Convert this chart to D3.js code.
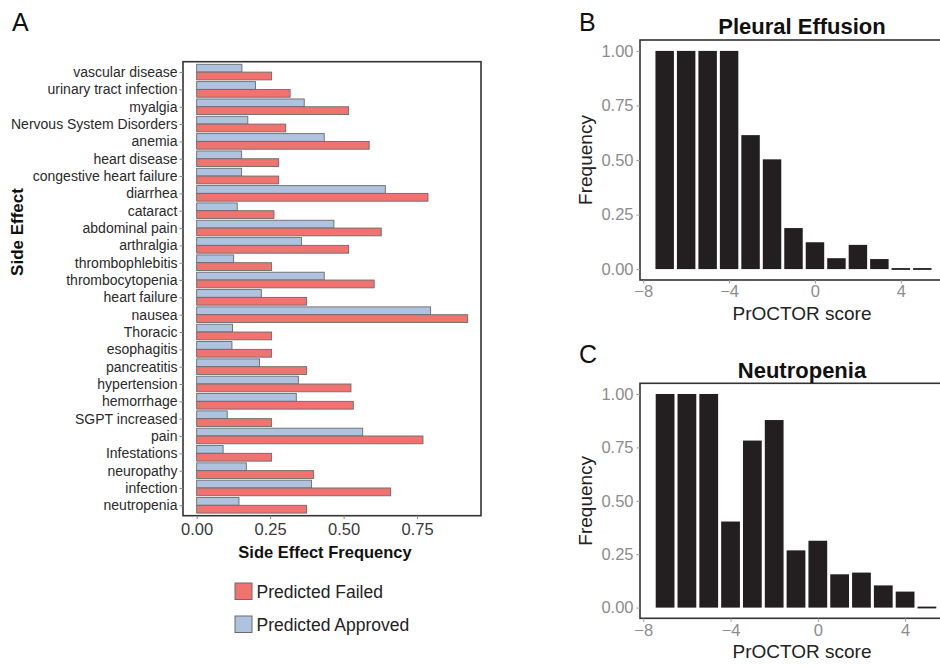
<!DOCTYPE html>
<html><head><meta charset="utf-8">
<script src="https://cdn.jsdelivr.net/npm/d3@7"></script>
<style>body{margin:0;background:#fff}svg{display:block;font-family:"Liberation Sans",Arial,Helvetica,sans-serif}</style>
</head><body><svg id="c" width="940" height="667"></svg>
<script>
const categories = ["vascular disease","urinary tract infection","myalgia","Nervous System Disorders","anemia","heart disease","congestive heart failure","diarrhea","cataract","abdominal pain","arthralgia","thrombophlebitis","thrombocytopenia","heart failure","nausea","Thoracic","esophagitis","pancreatitis","hypertension","hemorrhage","SGPT increased","pain","Infestations","neuropathy","infection","neutropenia"];
const approved = [0.154,0.200,0.366,0.174,0.434,0.153,0.153,0.642,0.138,0.467,0.357,0.126,0.434,0.220,0.796,0.122,0.120,0.214,0.346,0.339,0.104,0.565,0.090,0.169,0.391,0.144];
const failed   = [0.255,0.318,0.517,0.303,0.587,0.279,0.279,0.787,0.263,0.628,0.517,0.255,0.604,0.374,0.922,0.255,0.255,0.374,0.525,0.533,0.255,0.770,0.255,0.398,0.660,0.374];
const freqTicks = [0, 0.25, 0.5, 0.75];
const seriesNames = ["Predicted Failed","Predicted Approved"];

const scoreBins = [-7,-6,-5,-4,-3,-2,-1,0,1,2,3,4,5];
const pleuralFreq = [1,1,1,1,0.614,0.503,0.188,0.123,0.050,0.111,0.046,0,0];
const neutropeniaFreq = [1,1,1,0.403,0.782,0.878,0.268,0.313,0.156,0.164,0.104,0.075,0];
const scoreTicks = [-8,-4,0,4];
const histYTicks = [0,0.25,0.5,0.75,1];

const svg = d3.select("#c");
const RED = "#F07370", BLUE = "#AFC2E0", BSTROKE = "#6b6b6b";

// ---------- Panel A ----------
const A = {l:183, r:481, t:61.7, b:515.7};
const x = d3.scaleLinear().domain([-0.0465, 0.9675]).range([A.l, A.r]);
const y = d3.scalePoint().domain(categories).range([A.t, A.b]).padding(0.6);
const step = y.step(), bh = step*0.45;
const gA = svg.append("g");
gA.append("rect").attr("x",A.l).attr("y",A.t).attr("width",A.r-A.l).attr("height",A.b-A.t)
  .attr("fill","#fff").attr("stroke","#333").attr("stroke-width",1.6);
categories.forEach((c,i)=>{
  gA.append("rect").attr("x",x(0)).attr("y",y(c)-bh).attr("width",x(approved[i])-x(0)).attr("height",bh)
    .attr("fill",BLUE).attr("stroke",BSTROKE).attr("stroke-width",0.9);
  gA.append("rect").attr("x",x(0)).attr("y",y(c)).attr("width",x(failed[i])-x(0)).attr("height",bh)
    .attr("fill",RED).attr("stroke",BSTROKE).attr("stroke-width",0.9);
});
const yAx = gA.append("g").attr("transform",`translate(${A.l},0)`)
  .call(d3.axisLeft(y).tickSize(3.5).tickPadding(2));
yAx.select(".domain").remove();
yAx.selectAll("line").attr("stroke","#888");
yAx.selectAll("text").attr("font-size",14).attr("fill","#2a2a2a").attr("font-family","Liberation Sans, Arial, sans-serif");
const xAx = gA.append("g").attr("transform",`translate(0,${A.b})`)
  .call(d3.axisBottom(x).tickValues(freqTicks).tickFormat(d3.format(".2f")).tickSize(3.5).tickPadding(4));
xAx.select(".domain").remove();
xAx.selectAll("line").attr("stroke","#888");
xAx.selectAll("text").attr("font-size",16.5).attr("fill","#3a3a3a").attr("font-family","Liberation Sans, Arial, sans-serif");
svg.append("text").attr("x",325).attr("y",558).attr("text-anchor","middle").attr("font-weight","bold")
  .attr("font-size",16.5).attr("fill","#111").text("Side Effect Frequency");
svg.append("text").attr("transform","translate(23,232) rotate(-90)").attr("text-anchor","middle")
  .attr("font-weight","bold").attr("font-size",17).attr("fill","#111").text("Side Effect");
svg.append("text").attr("x",12).attr("y",31).attr("font-size",25).attr("fill","#111").text("A");
// legend
const legColors = [RED, BLUE];
seriesNames.forEach((n,i)=>{
  const ly = 583 + i*33;
  svg.append("rect").attr("x",235).attr("y",ly).attr("width",17).attr("height",16.5)
    .attr("fill",legColors[i]).attr("stroke",BSTROKE).attr("stroke-width",1);
  svg.append("text").attr("x",256.5).attr("y",ly+15).attr("font-size",17.5).attr("fill","#222").text(n);
});

// ---------- Histograms ----------
function hist(label, title, values, box, xr, titleY, labelY){
  const g = svg.append("g");
  const hx = d3.scaleLinear().domain([-8.15, 6.15]).range([box.l, xr]);
  const hy = d3.scaleLinear().domain([-0.05, 1.05]).range([box.b, box.t]);
  g.append("rect").attr("x",box.l).attr("y",box.t).attr("width",xr-box.l).attr("height",box.b-box.t)
    .attr("fill","#fff").attr("stroke","#333").attr("stroke-width",1.6);
  const bw = 0.86;
  scoreBins.forEach((s,i)=>{
    const h = hy(0)-hy(values[i]);
    g.append("rect").attr("x",hx(s-bw/2)).attr("width",hx(s+bw/2)-hx(s-bw/2))
      .attr("y",hy(values[i]) - (h<1.5?1:0)).attr("height",Math.max(h,1.8)).attr("fill","#231f20");
  });
  const ya = g.append("g").attr("transform",`translate(${box.l},0)`)
    .call(d3.axisLeft(hy).tickValues(histYTicks).tickFormat(d3.format(".2f")).tickSize(3.5).tickPadding(3));
  ya.select(".domain").remove();
  ya.selectAll("line").attr("stroke","#999");
  ya.selectAll("text").attr("font-size",16.5).attr("fill","#8c8c8c").attr("font-family","Liberation Sans, Arial, sans-serif");
  const xa = g.append("g").attr("transform",`translate(0,${box.b})`)
    .call(d3.axisBottom(hx).tickValues(scoreTicks).tickFormat(d=>d<0?"\u2212"+(-d):d).tickSize(3.5).tickPadding(2));
  xa.select(".domain").remove();
  xa.selectAll("line").attr("stroke","#999");
  xa.selectAll("text").attr("font-size",16.5).attr("fill","#8c8c8c").attr("font-family","Liberation Sans, Arial, sans-serif");
  svg.append("text").attr("x",802).attr("y",box.b+40).attr("text-anchor","middle").attr("font-size",19)
    .attr("fill","#222").text("PrOCTOR score");
  svg.append("text").attr("transform",`translate(592,${(box.t+box.b)/2}) rotate(-90)`).attr("text-anchor","middle")
    .attr("font-size",19).attr("fill","#222").text("Frequency");
  svg.append("text").attr("x",802).attr("y",titleY).attr("text-anchor","middle").attr("font-weight","bold")
    .attr("font-size",22).attr("fill","#111").text(title);
  svg.append("text").attr("x",579).attr("y",labelY).attr("font-size",25).attr("fill","#111").text(label);
}
hist("B","Pleural Effusion",pleuralFreq,{l:640,t:40,b:280},947,34,31);
hist("C","Neutropenia",neutropeniaFreq,{l:640,t:383.3,b:618.3},952,378,363);
</script></body></html>
